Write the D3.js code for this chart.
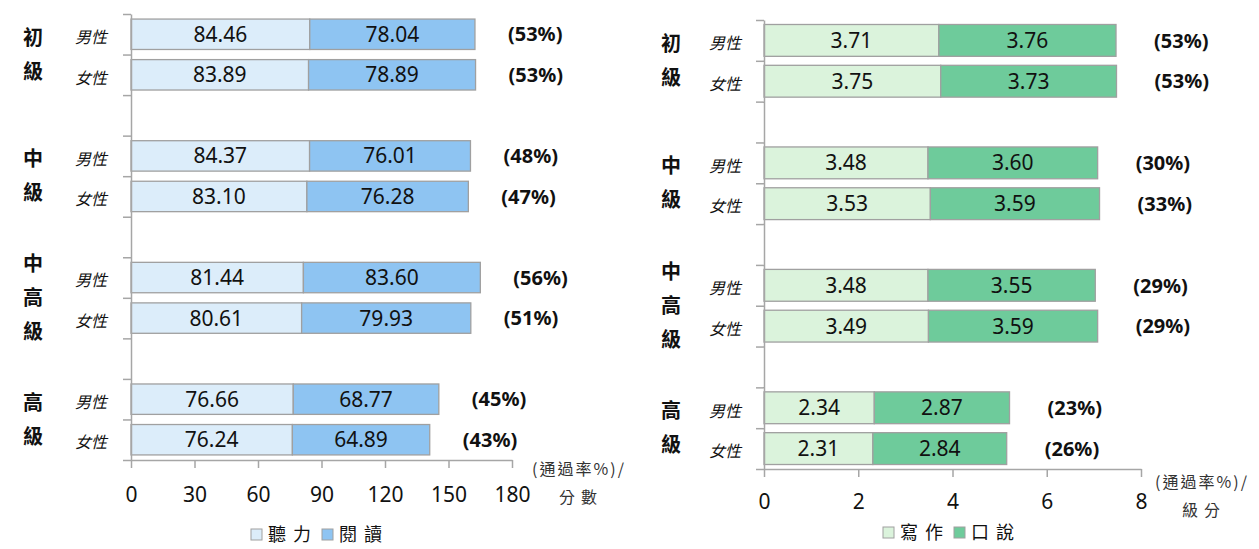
<!DOCTYPE html>
<html><head><meta charset="utf-8">
<script src="https://cdn.jsdelivr.net/npm/d3@7"></script>
<style>
body{margin:0;background:#fff;}
svg{display:block;}
</style></head>
<body>
<svg id="chart" width="1259" height="549"></svg>
<script>
const levels = ["初級","中級","中高級","高級"];
const genders = ["男性","女性"];
const listening = [84.46,83.89,84.37,83.10,81.44,80.61,76.66,76.24];
const reading   = [78.04,78.89,76.01,76.28,83.60,79.93,68.77,64.89];
const lrPass    = ["53%","53%","48%","47%","56%","51%","45%","43%"];
const writing   = [3.71,3.75,3.48,3.53,3.48,3.49,2.34,2.31];
const speaking  = [3.76,3.73,3.60,3.59,3.55,3.59,2.87,2.84];
const swPass    = ["53%","53%","30%","33%","29%","29%","23%","26%"];
const lrTicks = [0,30,60,90,120,150,180];
const swTicks = [0,2,4,6,8];
const lrLegend = ["聽力","閱讀"];
const swLegend = ["寫作","口說"];
const lrUnit = ["(通過率%)/","分數"];
const swUnit = ["(通過率%)/","級分"];

const svg = d3.select("#chart");
const CJK = "'Noto Sans CJK TC','Noto Sans CJK SC',sans-serif";
const NUM = "'Noto Sans','Open Sans',sans-serif";

function draw(cfg){
  const g = svg.append("g");
  const nRows = levels.length*3 - 1;
  const rowOf = (i,j) => i*3 + j;
  const y = d3.scaleBand().domain(d3.range(nRows)).range([cfg.top,cfg.bottom]).paddingInner(cfg.pad).paddingOuter(cfg.pad/2);
  const yLin = d3.scaleLinear().domain([0,nRows]).range([cfg.top,cfg.bottom]);
  const x = d3.scaleLinear().domain([cfg.ticks[0], cfg.ticks[cfg.ticks.length-1]]).range([cfg.left,cfg.right]);

  const rows = [];
  levels.forEach((lv,i)=>genders.forEach((gd,j)=>{
    const k = i*2+j;
    rows.push({row:rowOf(i,j), gender:gd, a:cfg.a[k], b:cfg.b[k], pass:cfg.pass[k]});
  }));

  const bar = g.selectAll("g.row").data(rows).join("g").attr("class","row");
  bar.append("rect")
    .attr("x", x(0)).attr("y", d=>y(d.row))
    .attr("width", d=>x(d.a)-x(0)).attr("height", y.bandwidth())
    .attr("fill", cfg.colA).attr("stroke","#a0a0a0").attr("stroke-width",1.3);
  bar.append("rect")
    .attr("x", d=>x(d.a)).attr("y", d=>y(d.row))
    .attr("width", d=>x(d.a+d.b)-x(d.a)).attr("height", y.bandwidth())
    .attr("fill", cfg.colB).attr("stroke","#a0a0a0").attr("stroke-width",1.3);
  bar.append("text")
    .attr("x", d=>(x(0)+x(d.a))/2).attr("y", d=>y(d.row)+y.bandwidth()/2)
    .attr("dy","0.36em").attr("text-anchor","middle")
    .style("font-family",NUM).style("font-size","21px").attr("fill","#111")
    .text(d=>d.a.toFixed(2));
  bar.append("text")
    .attr("x", d=>(x(d.a)+x(d.a+d.b))/2).attr("y", d=>y(d.row)+y.bandwidth()/2)
    .attr("dy","0.36em").attr("text-anchor","middle")
    .style("font-family",NUM).style("font-size","21px").attr("fill","#111")
    .text(d=>d.b.toFixed(2));
  bar.append("text")
    .attr("x", d=>x(d.a+d.b)+cfg.passOff).attr("y", d=>y(d.row)+y.bandwidth()/2)
    .attr("dy","0.36em").attr("text-anchor","start")
    .style("font-family",NUM).style("font-size","20px").style("font-weight","bold").attr("fill","#111")
    .text(d=>"("+d.pass+")");
  bar.append("text")
    .attr("x", cfg.genderX).attr("y", d=>y(d.row)+y.bandwidth()/2+3)
    .attr("dy","0.36em").attr("text-anchor","middle")
    .style("font-family",CJK).style("font-size","16px").style("font-style","italic").attr("fill","#111")
    .text(d=>d.gender);

  levels.forEach((lv,i)=>{
    const cy = yLin(rowOf(i,1));
    const chars = Array.from(lv);
    const sp = 34;
    chars.forEach((c,ci)=>{
      g.append("text").attr("x",cfg.levelX)
        .attr("y", cy + (ci-(chars.length-1)/2)*sp).attr("dy","0.36em")
        .attr("text-anchor","middle")
        .style("font-family",CJK).style("font-size","20px").style("font-weight","bold").attr("fill","#111")
        .text(c);
    });
  });

  const ya = g.append("g").attr("transform",`translate(${cfg.left},0)`)
    .call(d3.axisLeft(yLin).tickValues(d3.range(nRows+1)).tickFormat("").tickSize(8).tickSizeOuter(0));
  ya.selectAll("path,line").attr("stroke","#a6a6a6").attr("stroke-width",1.5);

  const xa = g.append("g").attr("transform",`translate(0,${cfg.bottom})`)
    .call(d3.axisBottom(x).tickValues(cfg.ticks).tickSize(8).tickSizeOuter(0).tickPadding(cfg.tickPad));
  xa.selectAll("path,line").attr("stroke","#a6a6a6").attr("stroke-width",1.5);
  xa.selectAll("text").style("font-family",NUM).style("font-size","21px").attr("fill","#111");

  g.append("text").attr("x",cfg.unitX).attr("y",cfg.unitY).attr("text-anchor","middle")
    .style("font-family",CJK).style("font-size","16px").style("letter-spacing","2px").attr("fill","#333")
    .text(cfg.unit[0]);
  g.append("text").attr("x",cfg.unitX+cfg.unit2Dx).attr("y",cfg.unitY+28).attr("text-anchor","middle")
    .style("font-family",CJK).style("font-size","16px").style("letter-spacing","6px").attr("fill","#333")
    .text(cfg.unit[1]);

  const lg = g.append("g").attr("transform",`translate(${cfg.legX},${cfg.legY})`);
  let lx = 0;
  cfg.legend.forEach((t,li)=>{
    lg.append("rect").attr("x",lx).attr("y",-6).attr("width",11).attr("height",11)
      .attr("fill", li===0?cfg.colA:cfg.colB).attr("stroke","#a0a0a0").attr("stroke-width",1);
    const tx = lg.append("text").attr("x",lx+17).attr("y",0).attr("dy","0.34em")
      .style("font-family",CJK).style("font-size","18px").style("letter-spacing","7px").attr("fill","#111")
      .text(t);
    lx += 17 + tx.node().getComputedTextLength() + 4;
  });
}

draw({top:14,bottom:460,left:131,right:512,pad:0.25,ticks:lrTicks,a:listening,b:reading,pass:lrPass,
  colA:"#dcedfa",colB:"#8ec4f2",passOff:33,genderX:91,levelX:33,tickPad:19,
  unit:lrUnit,unitX:579,unitY:475,unit2Dx:2,legend:lrLegend,legX:251,legY:535});
draw({top:20,bottom:469,left:764,right:1141,pad:0.22,ticks:swTicks,a:writing,b:speaking,pass:swPass,
  colA:"#dbf3dc",colB:"#6ecb9b",passOff:38,genderX:725,levelX:671,tickPad:17,
  unit:swUnit,unitX:1202,unitY:488,unit2Dx:2,legend:swLegend,legX:883,legY:533});
</script>
</body></html>
